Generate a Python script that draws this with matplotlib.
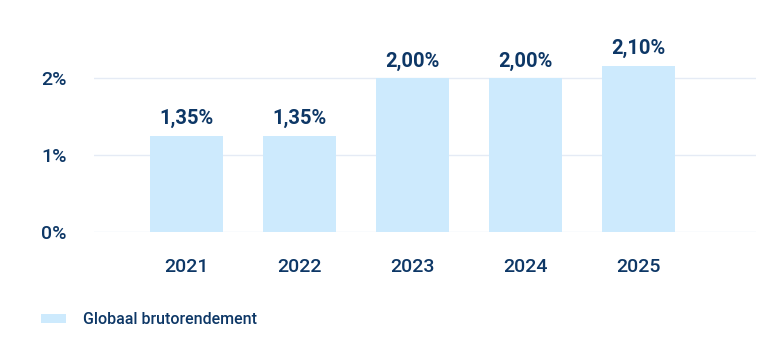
import matplotlib
matplotlib.use("Agg")
import matplotlib.pyplot as plt
from matplotlib.patches import Patch

years = ["2021", "2022", "2023", "2024", "2025"]
bar_heights = [1.25, 1.25, 2.00, 2.00, 2.16]
bar_labels = ["1,35%", "1,35%", "2,00%", "2,00%", "2,10%"]
y_ticks = [0, 1, 2]
y_tick_labels = ["0%", "1%", "2%"]
series_name = "Globaal brutorendement"

navy = "#0d3766"
bar_color = "#cdeafd"
grid_color = "#e5ebf5"

plt.rcParams["font.family"] = ["Roboto", "DejaVu Sans"]

fig = plt.figure(figsize=(7.72, 3.63), dpi=100)
ax = fig.add_axes([94 / 772, 130.7 / 363, (756 - 94) / 772, 202.3 / 363])

x = list(range(len(years)))
bars = ax.bar(x, bar_heights, width=0.646, color=bar_color, zorder=2)

for xi, h, lab in zip(x, bar_heights, bar_labels):
    ax.annotate(lab, (xi, h), xytext=(0, 5.5), textcoords="offset points",
                ha="center", va="bottom", fontsize=14.5, fontweight="bold", color=navy)

ax.set_xlim(-0.82, 5.04)
ax.set_ylim(0, 2.627)
ax.set_yticks(y_ticks)
ax.set_yticklabels(y_tick_labels, fontweight="medium")
ax.set_xticks(x)
ax.set_xticklabels(years, fontweight="medium")
ax.tick_params(axis="y", length=0, pad=19.5, labelsize=14, labelcolor=navy)
ax.tick_params(axis="x", length=0, pad=18.5, labelsize=14, labelcolor=navy)
for s in ax.spines.values():
    s.set_visible(False)
ax.grid(axis="y", color=grid_color, linewidth=1, zorder=0)
ax.set_axisbelow(True)

handle = Patch(facecolor=bar_color, edgecolor="none")
fig.legend([handle], [series_name], loc="center left",
           bbox_to_anchor=(41 / 772, 1 - 320 / 363), frameon=False,
           borderaxespad=0, borderpad=0, handlelength=1.55, handleheight=0.52,
           handletextpad=1.05, prop={"size": 11.5, "weight": "medium"}, labelcolor=navy)

fig.savefig("out.png", dpi=100)
